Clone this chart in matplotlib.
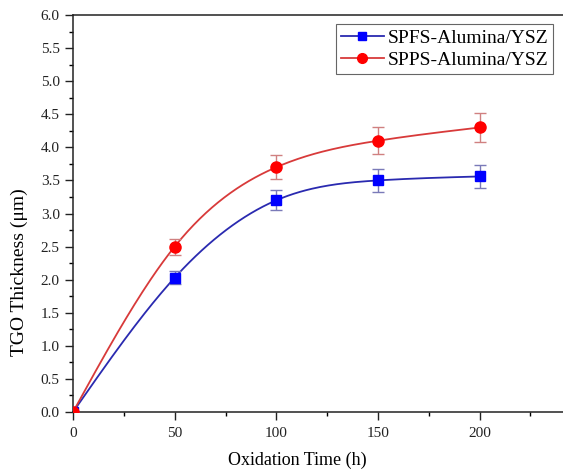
"""TGO thickness vs oxidation time for two Alumina/YSZ coatings."""

import numpy as np
import matplotlib
matplotlib.use("Agg")
import matplotlib.pyplot as plt

plt.rcParams["font.family"] = ["Liberation Serif", "DejaVu Serif"]

# Data
time_h = [0, 50, 100, 150, 200]
spfs_thk = [0.0, 2.03, 3.20, 3.50, 3.56]
spfs_err = [0.0, 0.10, 0.15, 0.17, 0.18]
spps_thk = [0.0, 2.50, 3.70, 4.10, 4.30]
spps_err = [0.0, 0.12, 0.18, 0.20, 0.22]

SERIES_LABELS = ["SPFS-Alumina/YSZ", "SPPS-Alumina/YSZ"]


def spline(x, y, n=200):
    """Natural cubic spline through (x, y), numpy only, for the connecting line."""
    x = np.asarray(x, float)
    y = np.asarray(y, float)
    m = len(x)
    h = np.diff(x)
    A = np.zeros((m, m))
    b = np.zeros(m)
    A[0, 0] = A[-1, -1] = 1.0
    for i in range(1, m - 1):
        A[i, i - 1] = h[i - 1]
        A[i, i] = 2 * (h[i - 1] + h[i])
        A[i, i + 1] = h[i]
        b[i] = 6 * ((y[i + 1] - y[i]) / h[i] - (y[i] - y[i - 1]) / h[i - 1])
    M = np.linalg.solve(A, b)
    xs = np.linspace(x[0], x[-1], n)
    idx = np.clip(np.searchsorted(x, xs) - 1, 0, m - 2)
    x0, x1 = x[idx], x[idx + 1]
    hh = x1 - x0
    ys = (M[idx] * (x1 - xs) ** 3 / (6 * hh) + M[idx + 1] * (xs - x0) ** 3 / (6 * hh)
          + (y[idx] / hh - M[idx] * hh / 6) * (x1 - xs)
          + (y[idx + 1] / hh - M[idx + 1] * hh / 6) * (xs - x0))
    return xs, ys


fig = plt.figure(figsize=(5.63, 4.75), dpi=100)
ax = fig.add_axes([0.1297, 0.1326, 0.8703, 0.8358])

styles = [
    dict(line="#2a2ab0", mark="#0000ff", err="#7a7ab8", marker="s", ms=7),
    dict(line="#d83a3a", mark="#ff0000", err="#d08080", marker="o", ms=8),
]

for yv, ev, lab, st in zip([spfs_thk, spps_thk], [spfs_err, spps_err], SERIES_LABELS, styles):
    xs, ys = spline(time_h, yv)
    ax.plot(xs, ys, color=st["line"], lw=1.3, zorder=2)
    ax.errorbar(time_h, yv, yerr=ev, fmt="none", ecolor=st["err"], elinewidth=1.0,
                capsize=4, capthick=1.0, zorder=3)
    ax.plot(time_h, yv, linestyle="none", marker=st["marker"], ms=st["ms"],
            color=st["mark"], zorder=4)
    # legend proxy: line + marker
    ax.plot([], [], color=st["line"], lw=1.3, marker=st["marker"], ms=st["ms"] - 1,
            markerfacecolor=st["mark"], markeredgecolor=st["mark"], label=lab)

ax.set_xlim(0, 241)
ax.set_ylim(0, 6.0)
ax.set_xticks([0, 50, 100, 150, 200])
ax.set_xticks([25, 75, 125, 175, 225], minor=True)
ax.set_yticks(np.arange(0, 6.01, 0.5))
ax.set_yticks(np.arange(0.25, 6.0, 0.5), minor=True)
ax.yaxis.set_major_formatter(matplotlib.ticker.FormatStrFormatter("%.1f"))

ax.spines["right"].set_visible(False)
for s in ["left", "bottom", "top"]:
    ax.spines[s].set_linewidth(1.1)
    ax.spines[s].set_color("#222222")

ax.tick_params(which="major", direction="out", length=6, width=1.0, labelsize=11,
               colors="#222222")
ax.tick_params(axis="x", which="major", pad=5)
ax.tick_params(which="minor", direction="out", length=3, width=1.0)

# Labels sit off-centre in the reference (axis was cropped on the right)
ax.set_xlabel("Oxidation Time (h)", fontsize=13)
ax.xaxis.set_label_coords(0.457, -0.10)
ax.set_ylabel("TGO Thickness (μm)", fontsize=14)
ax.yaxis.set_label_coords(-0.092, 0.353)

leg = ax.legend(loc="upper right", bbox_to_anchor=(0.9796, 0.977), fontsize=14,
                frameon=True, fancybox=False, edgecolor="#666666", framealpha=1,
                handlelength=2.2, borderpad=0.25, labelspacing=0.25, handletextpad=0.2,
                borderaxespad=0.0)
leg.get_frame().set_linewidth(0.8)

fig.savefig("out.png", dpi=100)
